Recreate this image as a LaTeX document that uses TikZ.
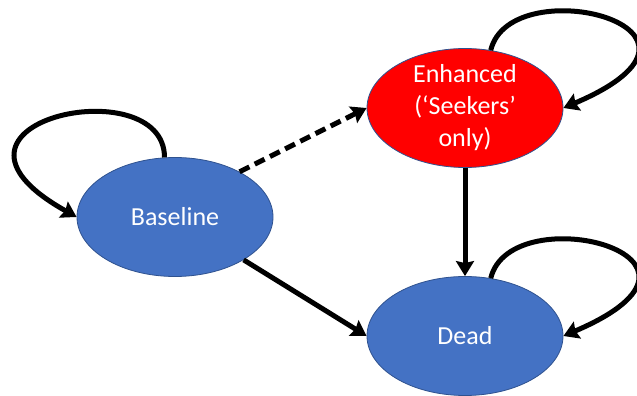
\documentclass[tikz,border=0pt]{standalone}
\usepackage{fontspec}
\setmainfont{Carlito}
\usetikzlibrary{shapes.geometric}
\usetikzlibrary{arrows.meta}
\definecolor{stateblue}{HTML}{4472C4}
\definecolor{stateedge}{HTML}{2F528F}
\definecolor{statered}{HTML}{FF0000}
\tikzset{
  state/.style={ellipse, draw=stateedge, line width=0.8pt, fill=stateblue,
    minimum width=196pt, minimum height=119pt, inner sep=0pt},
  statetext/.style={text=white, align=center,
    font=\fontsize{26}{32}\selectfont},
  trans/.style={line width=5pt, -{Stealth[length=15pt,width=18pt,inset=2pt]}}
}

\begin{document}
\begin{tikzpicture}[x=1pt, y=1pt]
      \useasboundingbox (0,0) rectangle (637,396);
      \draw (175,179) node[state, label={[statetext]center:Baseline}] (base) {};
      \draw (465,288) node[state, fill=statered,
        label={[statetext]center:Enhanced\\(`Seekers'\\only)}] (enh) {};
      \draw (465,60) node[state, label={[statetext]center:Dead}] (dead) {};

      % moves between states
      \draw[trans, dash pattern=on 11pt off 6pt] (base.35) -- (enh.west);
      \draw[trans] (base.-32) -- (dead.west);
      \draw[trans] (enh.south) -- (dead.north);

      % staying in a state
      \draw[trans] (base.100) .. controls +(0,90) and +(-170,95) .. (base.west);
      \draw[trans] (enh.66) .. controls +(20,82) and +(188,80) .. (enh.east);
      \draw[trans] (dead.66) .. controls +(20,82) and +(188,80) .. (dead.east);
\end{tikzpicture}
\end{document}
